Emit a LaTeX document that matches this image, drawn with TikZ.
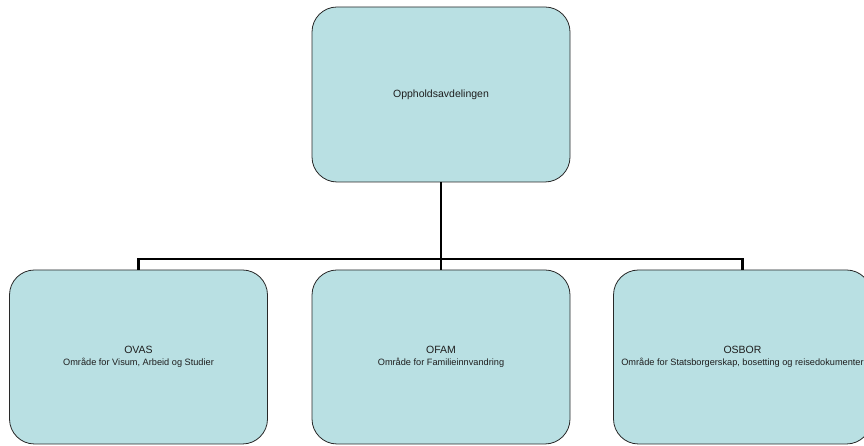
\documentclass[tikz,border=0pt]{standalone}
\usepackage{fontspec}
\setmainfont{Liberation Sans}
\definecolor{boxfill}{RGB}{185,224,227}
\definecolor{boxline}{RGB}{40,40,40}
\definecolor{txt}{RGB}{30,30,30}
\begin{document}
\begin{tikzpicture}[x=1pt,y=1pt,
  unit/.style={draw=boxline,line width=0.8pt,fill=boxfill,rounded corners=25pt,
    minimum width=258pt,minimum height=174pt,inner sep=0pt,align=center,
    text=txt,font=\fontsize{10.5}{12.5}\selectfont},
  link/.style={line width=2.8pt,black}]
\useasboundingbox (0,0) rectangle (864,446);
\node[unit,minimum height=175pt] (top) at (441,351.5) {Oppholdsavdelingen};
\node[unit] (ovas) at (138.5,89) {OVAS\\{\fontsize{9.2}{11}\selectfont Område for Visum, Arbeid og Studier}};
\node[unit] (ofam) at (441,89) {OFAM\\{\fontsize{9.2}{11}\selectfont Område for Familieinnvandring}};
\node[unit] (osbor) at (742.5,89) {OSBOR\\{\fontsize{9.2}{11}\selectfont Område for Statsborgerskap, bosetting og reisedokumenter}};
\coordinate (j) at (441,187);
\draw[link] (top.south) -- (j);
\draw[link] (ovas.north) |- (j) -| (osbor.north);
\draw[link] (j) -- (ofam.north);
\end{tikzpicture}
\end{document}
